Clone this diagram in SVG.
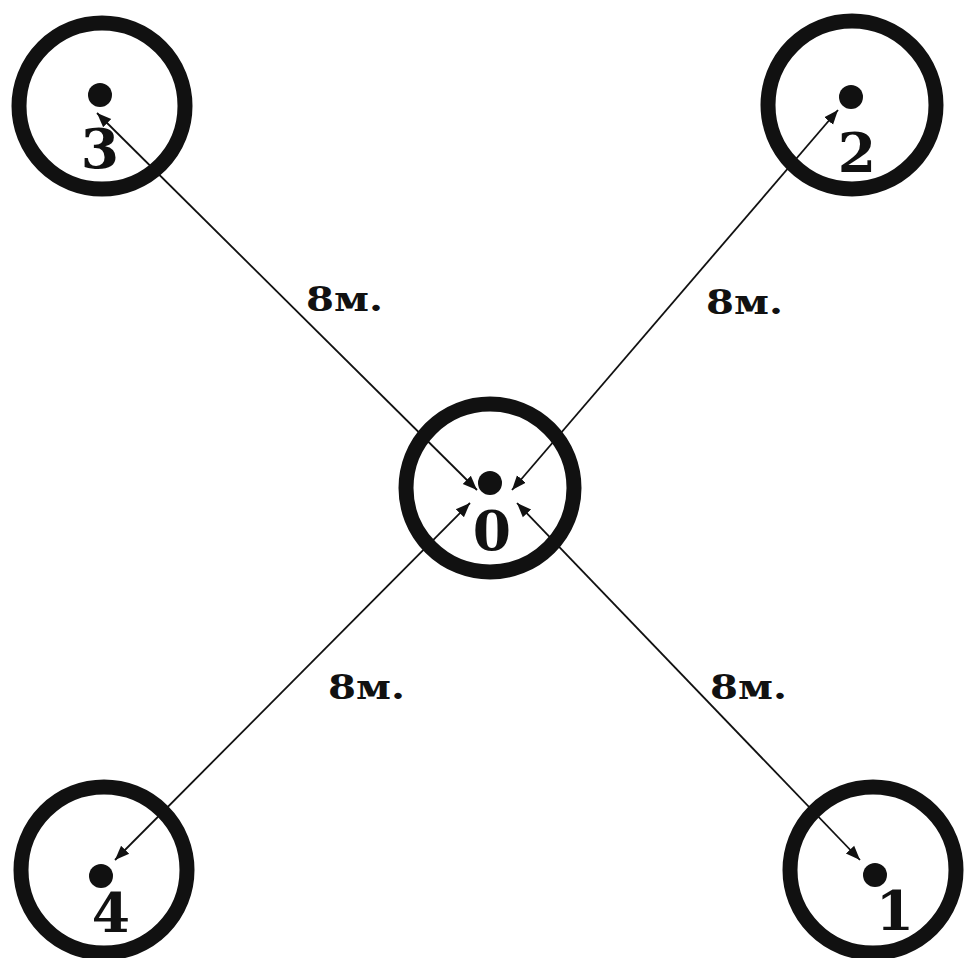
<svg xmlns="http://www.w3.org/2000/svg" width="965" height="958" viewBox="0 0 965 958">
<style>
.ring{fill:none;stroke:#111;stroke-width:15}
.dot{fill:#111}
.num{font-family:"DejaVu Serif","Liberation Serif",serif;font-weight:bold;font-size:55px;fill:#111;text-anchor:middle}
.lbl{font-family:"DejaVu Serif","Liberation Serif",serif;font-weight:bold;font-size:34px;fill:#111}
.conn{stroke:#111;stroke-width:1.8;fill:none;marker-start:url(#ah);marker-end:url(#ah)}
</style>
<defs>
<marker id="ah" viewBox="0 0 10 10" refX="10" refY="5" markerWidth="8" markerHeight="8" orient="auto-start-reverse" markerUnits="strokeWidth">
<path d="M0,1 L10,5 L0,9 z" fill="#111"/>
</marker>
</defs>
<rect width="965" height="958" fill="#fff"/>
<g id="connectors">
<line class="conn" x1="477" y1="490" x2="97" y2="113"/>
<line class="conn" x1="512" y1="490" x2="838" y2="110"/>
<line class="conn" x1="470" y1="503" x2="115" y2="860"/>
<line class="conn" x1="517" y1="503" x2="860" y2="860"/>
</g>
<g id="node0">
<circle class="ring" cx="490" cy="488" r="84"/>
<circle class="dot" cx="490" cy="483" r="12"/>
<text class="num" x="492" y="550">0</text>
</g>
<g id="node1">
<circle class="ring" cx="873" cy="870" r="83"/>
<circle class="dot" cx="875" cy="875" r="12"/>
<text class="num" x="895" y="930">1</text>
</g>
<g id="node2">
<circle class="ring" cx="852" cy="105" r="84"/>
<circle class="dot" cx="851" cy="97" r="12"/>
<text class="num" x="857" y="172">2</text>
</g>
<g id="node3">
<circle class="ring" cx="102" cy="106" r="83"/>
<circle class="dot" cx="100" cy="95" r="12"/>
<text class="num" x="100" y="168">3</text>
</g>
<g id="node4">
<circle class="ring" cx="104" cy="870" r="83"/>
<circle class="dot" cx="101" cy="876" r="12"/>
<text class="num" x="111" y="932">4</text>
</g>
<g id="labels">
<text class="lbl" x="306" y="311" textLength="77" lengthAdjust="spacingAndGlyphs">8м.</text>
<text class="lbl" x="706" y="314" textLength="77" lengthAdjust="spacingAndGlyphs">8м.</text>
<text class="lbl" x="328" y="699" textLength="77" lengthAdjust="spacingAndGlyphs">8м.</text>
<text class="lbl" x="710" y="699" textLength="77" lengthAdjust="spacingAndGlyphs">8м.</text>
</g>
</svg>
